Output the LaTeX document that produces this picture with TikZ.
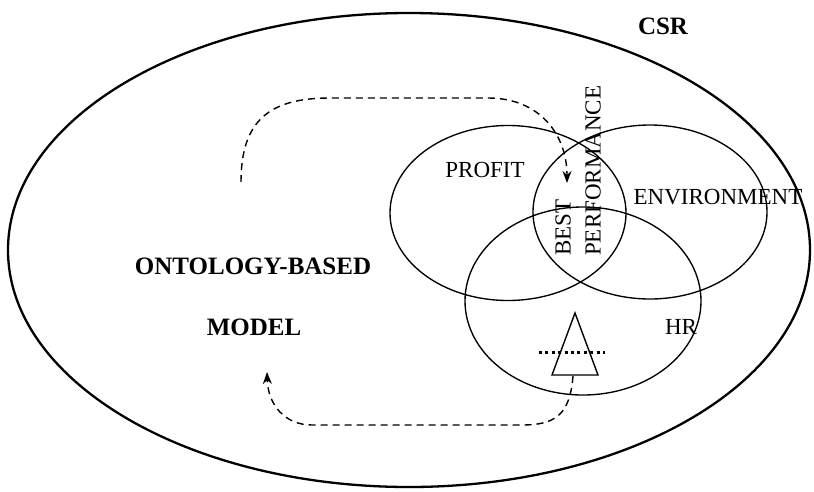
\documentclass[tikz,border=0pt]{standalone}
\usepackage{fontspec}
\setmainfont{Liberation Serif}
\usetikzlibrary{shapes.geometric,arrows.meta}
\begin{document}
\begin{tikzpicture}[x=1pt,y=-1pt,
  oval/.style={draw,ellipse,inner sep=0pt,line width=1.35pt},
  label/.style={inner sep=0pt,font=\fontsize{23}{26}\selectfont},
  boldlabel/.style={inner sep=0pt,font=\fontsize{25}{28}\selectfont\bfseries},
  flow/.style={dashed,dash pattern=on 7pt off 5pt,line width=1.4pt,-{Stealth[length=12pt,width=9pt]}}]
\useasboundingbox (0,0) rectangle (814,491);
% outer CSR boundary
\node[oval,line width=2.3pt,minimum width=802pt,minimum height=474pt] (csr) at (409,250) {};
% three overlapping dimensions
\node[oval,minimum width=236pt,minimum height=175pt] (profit) at (508,213) {};
\node[oval,minimum width=234pt,minimum height=174pt] (env) at (650,212) {};
\node[oval,minimum width=236pt,minimum height=188pt] (hr) at (583,301) {};
% labels
\node[boldlabel] (csrlab) at (663,26) {CSR};
\node[boldlabel] (onto) at (253,266) {ONTOLOGY-BASED};
\node[boldlabel] (model) at (254,327) {MODEL};
\node[label] (proflab) at (485,170) {PROFIT};
\node[label] (envlab) at (718,197) {ENVIRONMENT};
\node[label] (hrlab) at (681,327) {HR};
\node[label,rotate=90,anchor=west] (best) at (563,256) {BEST};
\node[label,rotate=90,anchor=west] (perf) at (593,256) {PERFORMANCE};
% triangle with dotted threshold
\coordinate (tapex) at (575,313);
\coordinate (tleft) at (552,375);
\coordinate (tright) at (598,375);
\draw[line width=1.4pt] (tapex) -- (tleft) -- (tright) -- cycle;
\coordinate (dotl) at (539,352);
\coordinate (dotr) at (605,352);
\draw[line width=3pt,dash pattern=on 3pt off 3.4pt] (dotl) -- (dotr);
% feedback loops
\coordinate (upstart) at (241,182);
\coordinate (upend) at (567,183);
\draw[flow] (upstart) .. controls (241,120) and (270,98) .. (330,98)
  -- (488,98) .. controls (540,98) and (567,135) .. (upend);
\coordinate (lowstart) at (573,376);
\coordinate (lowend) at (267,372);
\draw[flow] (lowstart) .. controls (570,415) and (555,425) .. (522,425)
  -- (312,425) .. controls (285,425) and (268,405) .. (lowend);
\end{tikzpicture}
\end{document}
